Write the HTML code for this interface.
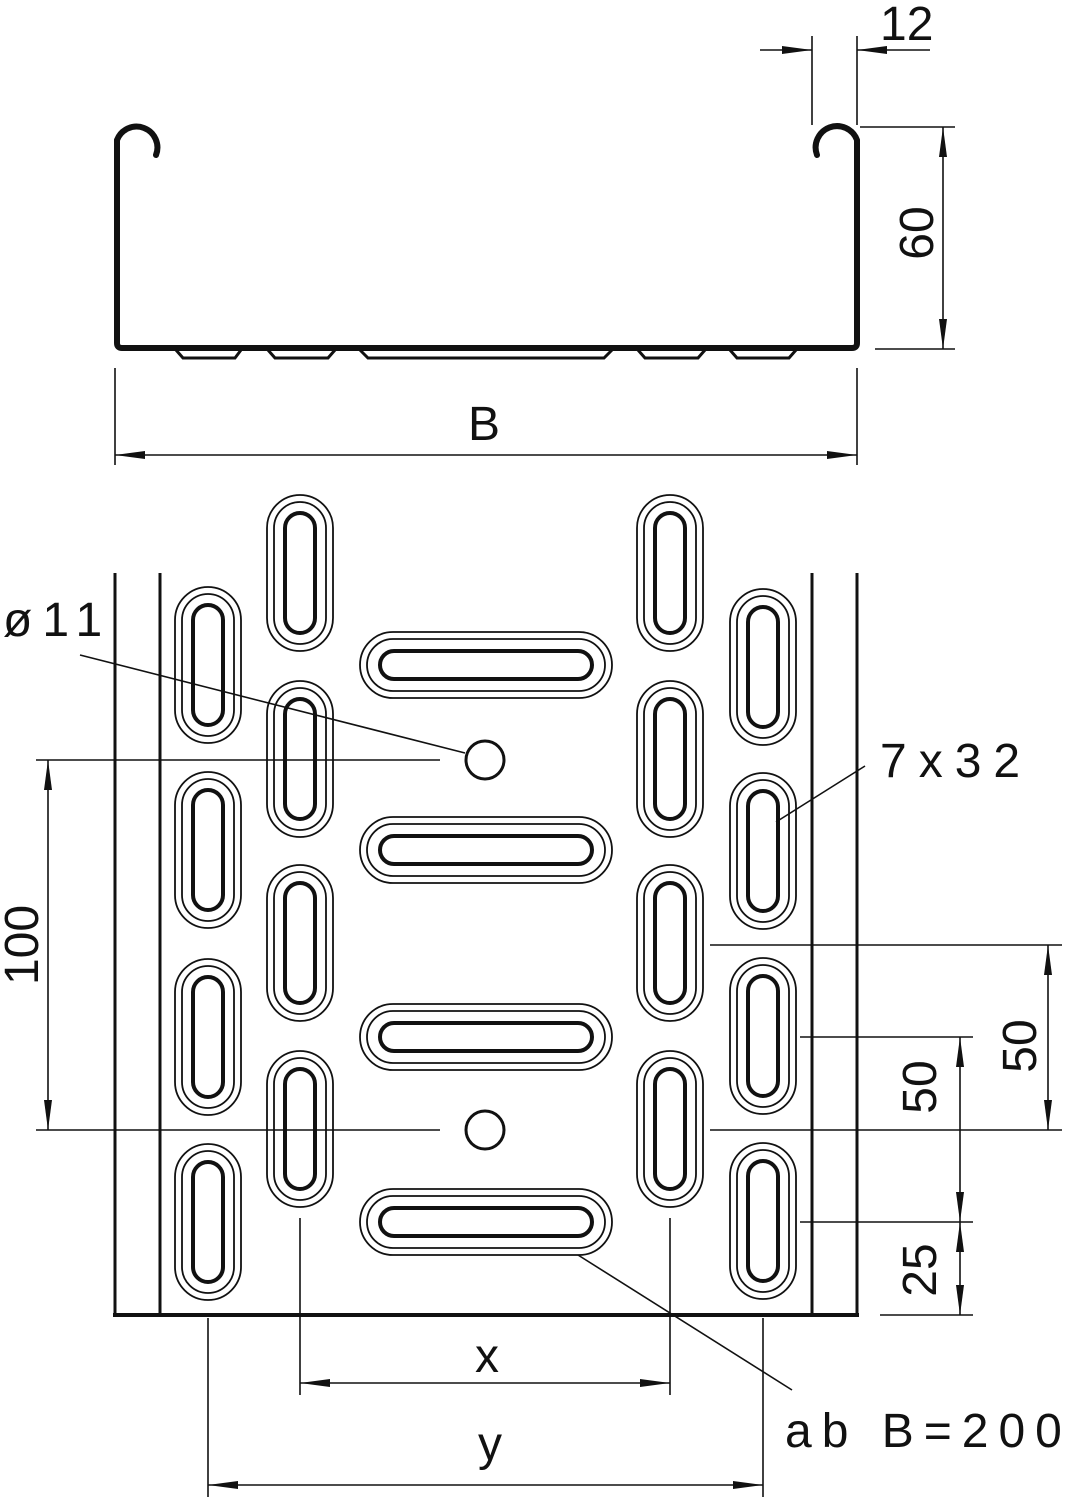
<!DOCTYPE html>
<html><head><meta charset="utf-8"><style>html,body{margin:0;padding:0;background:#fff}svg{display:block}</style></head>
<body>
<svg width="1078" height="1500" viewBox="0 0 1078 1500" xmlns="http://www.w3.org/2000/svg">
<defs>
<g id="vs" fill="none" stroke="#111">
<rect x="-33" y="-78" width="66" height="156" rx="33" stroke-width="1.8"/>
<rect x="-26" y="-71" width="52" height="142" rx="26" stroke-width="1.8"/>
<rect x="-15" y="-60" width="30" height="120" rx="15" stroke-width="4"/>
</g>
<g id="hs" fill="none" stroke="#111">
<rect x="-126" y="-33" width="252" height="66" rx="33" stroke-width="1.8"/>
<rect x="-119" y="-26" width="238" height="52" rx="26" stroke-width="1.8"/>
<rect x="-106" y="-14" width="212" height="28" rx="14" stroke-width="4"/>
</g>
<marker id="a" viewBox="0 0 30 10" refX="30" refY="5" markerWidth="30" markerHeight="10" markerUnits="userSpaceOnUse" orient="auto-start-reverse"><path d="M0,1 L30,5 L0,9 z" fill="#111"/></marker>
</defs>

<g fill="none" stroke="#111" stroke-width="6" stroke-linejoin="round" stroke-linecap="round">
<path d="M156,155 A20,20 0 1 0 117,140 L117,343 Q117,348 122,348 L852,348 Q857,348 857,343 L857,140 A20,20 0 1 0 817,155"/>
</g>
<g fill="none" stroke="#111" stroke-width="3">
<path d="M176,350 L183,358 L235,358 L241,350"/>
<path d="M268,350 L275,358 L328,358 L335,350"/>
<path d="M360,350 L368,358 L604,358 L612,350"/>
<path d="M638,350 L645,358 L698,358 L705,350"/>
<path d="M730,350 L737,358 L789,358 L796,350"/>
</g>

<g stroke="#111" stroke-width="1.6" fill="none">
<line x1="812" y1="36" x2="812" y2="125"/>
<line x1="857" y1="36" x2="857" y2="125"/>
<line x1="760" y1="50" x2="812" y2="50" marker-end="url(#a)"/>
<line x1="930" y1="50" x2="857" y2="50" marker-end="url(#a)"/>
<line x1="860" y1="127" x2="955" y2="127"/>
<line x1="875" y1="349" x2="955" y2="349"/>
<line x1="943" y1="127" x2="943" y2="349" marker-start="url(#a)" marker-end="url(#a)"/>
<line x1="115" y1="368" x2="115" y2="465"/>
<line x1="857" y1="368" x2="857" y2="465"/>
<line x1="115" y1="455" x2="857" y2="455" marker-start="url(#a)" marker-end="url(#a)"/>
</g>

<g stroke="#111" fill="none">
<line x1="115" y1="573" x2="115" y2="1316" stroke-width="3"/>
<line x1="160" y1="573" x2="160" y2="1316" stroke-width="3"/>
<line x1="812" y1="573" x2="812" y2="1316" stroke-width="3"/>
<line x1="857" y1="573" x2="857" y2="1316" stroke-width="3"/>
<line x1="113" y1="1315" x2="859" y2="1315" stroke-width="4"/>
</g>

<use href="#vs" x="208" y="665"/><use href="#vs" x="208" y="850"/><use href="#vs" x="208" y="1037"/><use href="#vs" x="208" y="1222"/>
<use href="#vs" x="300" y="573"/><use href="#vs" x="300" y="759"/><use href="#vs" x="300" y="943"/><use href="#vs" x="300" y="1129"/>
<use href="#vs" x="670" y="573"/><use href="#vs" x="670" y="759"/><use href="#vs" x="670" y="943"/><use href="#vs" x="670" y="1129"/>
<use href="#vs" x="763" y="667"/><use href="#vs" x="763" y="851"/><use href="#vs" x="763" y="1036"/><use href="#vs" x="763" y="1221"/>
<use href="#hs" x="486" y="665"/><use href="#hs" x="486" y="850"/><use href="#hs" x="486" y="1037"/><use href="#hs" x="486" y="1222"/>
<circle cx="485" cy="760" r="19" fill="none" stroke="#111" stroke-width="3"/>
<circle cx="485" cy="1130" r="19" fill="none" stroke="#111" stroke-width="3"/>

<g stroke="#111" stroke-width="1.6" fill="none">
<line x1="36" y1="760" x2="440" y2="760"/>
<line x1="36" y1="1130" x2="440" y2="1130"/>
<line x1="48" y1="760" x2="48" y2="1130" marker-start="url(#a)" marker-end="url(#a)"/>
<line x1="80" y1="655" x2="465" y2="753"/>
<line x1="865" y1="766" x2="776" y2="822"/>
<line x1="578" y1="1255" x2="792" y2="1390"/>
<line x1="710" y1="945" x2="1062" y2="945"/>
<line x1="710" y1="1130" x2="1062" y2="1130"/>
<line x1="1048" y1="945" x2="1048" y2="1130" marker-start="url(#a)" marker-end="url(#a)"/>
<line x1="800" y1="1037" x2="973" y2="1037"/>
<line x1="800" y1="1222" x2="973" y2="1222"/>
<line x1="880" y1="1315" x2="973" y2="1315"/>
<line x1="960" y1="1037" x2="960" y2="1222" marker-start="url(#a)" marker-end="url(#a)"/>
<line x1="960" y1="1222" x2="960" y2="1315" marker-start="url(#a)" marker-end="url(#a)"/>
<line x1="300" y1="1218" x2="300" y2="1395"/>
<line x1="670" y1="1218" x2="670" y2="1395"/>
<line x1="300" y1="1383" x2="670" y2="1383" marker-start="url(#a)" marker-end="url(#a)"/>
<line x1="208" y1="1318" x2="208" y2="1497"/>
<line x1="763" y1="1318" x2="763" y2="1497"/>
<line x1="208" y1="1485" x2="763" y2="1485" marker-start="url(#a)" marker-end="url(#a)"/>
</g>

<g font-family="Liberation Sans, sans-serif" fill="#111" font-size="48">
<text x="880" y="40">12</text>
<text x="933" y="233" transform="rotate(-90 933 233)" text-anchor="middle">60</text>
<text x="484" y="440" text-anchor="middle">B</text>
<text x="3" y="636" letter-spacing="10">ø11</text>
<text x="880" y="777" letter-spacing="12">7x32</text>
<text x="38" y="945" transform="rotate(-90 38 945)" text-anchor="middle">100</text>
<text x="936" y="1087" transform="rotate(-90 936 1087)" text-anchor="middle">50</text>
<text x="1036" y="1046" transform="rotate(-90 1036 1046)" text-anchor="middle">50</text>
<text x="936" y="1270" transform="rotate(-90 936 1270)" text-anchor="middle">25</text>
<text x="487" y="1372" text-anchor="middle">x</text>
<text x="490" y="1460" text-anchor="middle">y</text>
<text x="785" y="1447" letter-spacing="10">ab  B=200</text>
</g>
</svg>
</body></html>
